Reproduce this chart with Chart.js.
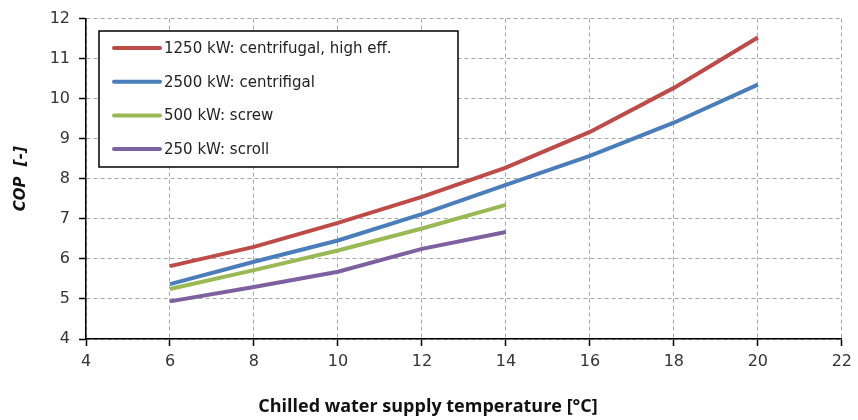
<!DOCTYPE html>
<html>
<head>
<meta charset="utf-8">
<script src="https://cdn.jsdelivr.net/npm/chart.js@4.4.1/dist/chart.umd.min.js"></script>
<style>
    html, body { margin: 0; padding: 0; background: #fff; }
    #wrap { width: 858px; height: 420px; position: relative; }
</style>
</head>
<body>
<div id="wrap"><canvas id="chart"></canvas></div>
<script>
// Chilled water supply temperature [°C]
const tempsLong = [6, 8, 10, 12, 14, 16, 18, 20];
const tempsShort = [6, 8, 10, 12, 14];

// COP values
const cop1250 = [5.82, 6.30, 6.90, 7.55, 8.28, 9.17, 10.27, 11.53];
const cop2500 = [5.37, 5.93, 6.46, 7.12, 7.85, 8.57, 9.40, 10.35];
const cop500 = [5.25, 5.72, 6.21, 6.76, 7.35];
const cop250 = [4.94, 5.30, 5.68, 6.25, 6.67];

const seriesLabels = [
    "1250 kW: centrifugal, high eff.",
    "2500 kW: centrifigal",
    "500 kW: screw",
    "250 kW: scroll"
];
const seriesColors = ["#BE4B48", "#4A7EBB", "#98B954", "#7D60A0"];

const xTicks = [4, 6, 8, 10, 12, 14, 16, 18, 20, 22];
const yTicks = [4, 5, 6, 7, 8, 9, 10, 11, 12];

const toPoints = (xs, ys) => xs.map((x, i) => ({ x, y: ys[i] }));

const makeDataset = (label, xs, ys, color) => ({
    label,
    data: toPoints(xs, ys),
    borderColor: color,
    backgroundColor: color,
    borderWidth: 4,
    pointRadius: 0,
    tension: 0,
    fill: false
});

/**
 * Draws the boxed legend inside the plot area, like the original Excel chart.
 */
const boxLegend = {
    id: "boxLegend",
    afterDraw(chart) {
        const ctx = chart.ctx;
        const box = { x: 99, y: 31, w: 359, h: 136 };
        ctx.save();
        ctx.fillStyle = "#fff";
        ctx.fillRect(box.x, box.y, box.w, box.h);
        ctx.strokeStyle = "#000";
        ctx.lineWidth = 1.5;
        ctx.strokeRect(box.x, box.y, box.w, box.h);

        ctx.font = "15px 'DejaVu Sans'";
        ctx.textBaseline = "middle";
        chart.data.datasets.forEach((ds, i) => {
            const y = 48 + i * 33.7;
            ctx.strokeStyle = ds.borderColor;
            ctx.lineWidth = 4;
            ctx.lineCap = "round";
            ctx.beginPath();
            ctx.moveTo(114, y);
            ctx.lineTo(160, y);
            ctx.stroke();
            ctx.fillStyle = "#222";
            ctx.fillText(ds.label, 164, y + 1);
        });
        ctx.restore();
    }
};

const gridStyle = {
    color: "#a6a6a6",
    lineWidth: 1,
    tickColor: "#000",
    tickLength: 7,
    tickWidth: 1.5,
    tickBorderDash: []
};

// in Chart.js v4 border.dash sets the dash of the grid lines, the axis line stays solid
const borderStyle = { display: true, color: "#000", width: 1.5, dash: [4, 3] };

new Chart(document.getElementById("chart"), {
    type: "line",
    data: {
        datasets: [
            makeDataset(seriesLabels[0], tempsLong, cop1250, seriesColors[0]),
            makeDataset(seriesLabels[1], tempsLong, cop2500, seriesColors[1]),
            makeDataset(seriesLabels[2], tempsShort, cop500, seriesColors[2]),
            makeDataset(seriesLabels[3], tempsShort, cop250, seriesColors[3])
        ]
    },
    options: {
        responsive: true,
        maintainAspectRatio: false,
        animation: false,
        layout: { padding: { top: 17, right: 10, left: 8, bottom: 0 } },
        plugins: {
            legend: { display: false },
            tooltip: { enabled: false },
            // the x title is centred on the whole picture, not on the plot
            title: {
                display: true,
                position: "bottom",
                text: "Chilled water supply temperature [°C]",
                color: "#111",
                font: { family: "Open Sans", size: 18, weight: "bold" },
                padding: { top: 0, bottom: 2 }
            }
        },
        scales: {
            x: {
                type: "linear",
                min: 4,
                max: 22,
                afterBuildTicks: (scale) => { scale.ticks = xTicks.map(v => ({ value: v })); },
                afterFit: (scale) => { scale.height = 57.4; },
                ticks: {
                    color: "#333",
                    font: { family: "DejaVu Sans", size: 16 },
                    padding: 6,
                    maxRotation: 0
                },
                grid: gridStyle,
                border: borderStyle
            },
            y: {
                type: "linear",
                min: 4,
                max: 12,
                afterBuildTicks: (scale) => { scale.ticks = yTicks.map(v => ({ value: v })); },
                afterFit: (scale) => { scale.width = 78; },
                ticks: {
                    color: "#333",
                    font: { family: "DejaVu Sans", size: 16 },
                    padding: 9
                },
                grid: gridStyle,
                border: borderStyle,
                title: {
                    display: true,
                    text: "COP  [-]",
                    color: "#111",
                    font: { family: "DejaVu Sans", size: 15, weight: "bold", style: "italic" },
                    padding: { top: 4, bottom: 0 }
                }
            }
        }
    },
    plugins: [boxLegend]
});
</script>
</body>
</html>
